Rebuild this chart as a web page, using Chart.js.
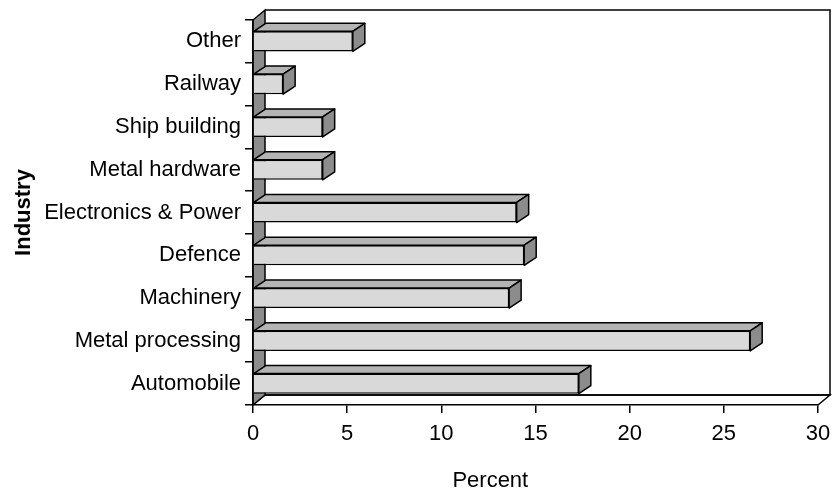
<!DOCTYPE html>
<html>
<head>
<meta charset="utf-8">
<script src="https://cdn.jsdelivr.net/npm/chart.js@4"></script>
<style>
  html, body { margin: 0; padding: 0; background: #fff; }
  #wrap { width: 832px; height: 491px; }
</style>
</head>
<body>
<div id="wrap"><canvas id="barChart" width="832" height="491"></canvas></div>
<script>
// bottom to top, as in the original sheet
const industries = [
  "Automobile",
  "Metal processing",
  "Machinery",
  "Defence",
  "Electronics & Power",
  "Metal hardware",
  "Ship building",
  "Railway",
  "Other",
];
const percents = [17.3, 26.4, 13.6, 14.4, 14.0, 3.7, 3.7, 1.6, 5.3];
const xTicks = [0, 5, 10, 15, 20, 25, 30];

const FONT = "'Liberation Sans', Arial, sans-serif";
const WALL_DX = 12, WALL_DY = -10;
const BAR_DX = 12, BAR_DY = -8;

// walls + floor behind everything
const wallsPlugin = {
  id: "walls",
  beforeDraw(chart) {
    const { ctx, chartArea: a } = chart;
    ctx.save();
    ctx.lineWidth = 1.5;
    ctx.strokeStyle = "#000";
    // back wall
    ctx.beginPath();
    ctx.moveTo(a.left + WALL_DX, a.top + WALL_DY);
    ctx.lineTo(a.right + WALL_DX, a.top + WALL_DY);
    ctx.lineTo(a.right + WALL_DX, a.bottom + WALL_DY);
    ctx.lineTo(a.left + WALL_DX, a.bottom + WALL_DY);
    ctx.stroke();
    // floor
    ctx.beginPath();
    ctx.moveTo(a.left, a.bottom);
    ctx.lineTo(a.left + WALL_DX, a.bottom + WALL_DY);
    ctx.lineTo(a.right + WALL_DX, a.bottom + WALL_DY);
    ctx.lineTo(a.right, a.bottom);
    ctx.stroke();
    // left wall
    ctx.beginPath();
    ctx.moveTo(a.left, a.top);
    ctx.lineTo(a.left + WALL_DX, a.top + WALL_DY);
    ctx.lineTo(a.left + WALL_DX, a.bottom + WALL_DY);
    ctx.lineTo(a.left, a.bottom);
    ctx.closePath();
    ctx.fillStyle = "#8c8c8c";
    ctx.fill();
    ctx.stroke();
    ctx.restore();
  },
  // x title sits a bit left of the axis centre in the original
  afterDraw(chart) {
    const { ctx } = chart;
    const xs = chart.scales.x;
    ctx.save();
    ctx.fillStyle = "#000";
    ctx.font = "22px " + FONT;
    ctx.textAlign = "center";
    ctx.textBaseline = "middle";
    ctx.fillText("Percent", xs.getPixelForValue(12.6), 481);
    ctx.restore();
  },
};

// top and end faces of each bar
const boxPlugin = {
  id: "box3d",
  afterDatasetsDraw(chart) {
    const { ctx } = chart;
    ctx.save();
    ctx.lineWidth = 1.5;
    ctx.strokeStyle = "#000";
    ctx.lineJoin = "round";
    chart.getDatasetMeta(0).data.forEach((bar) => {
      const p = bar.getProps(["x", "y", "base", "height"], true);
      const top = p.y - p.height / 2;
      const bottom = p.y + p.height / 2;
      ctx.beginPath();
      ctx.moveTo(p.base, top);
      ctx.lineTo(p.base + BAR_DX, top + BAR_DY);
      ctx.lineTo(p.x + BAR_DX, top + BAR_DY);
      ctx.lineTo(p.x, top);
      ctx.closePath();
      ctx.fillStyle = "#b4b4b4";
      ctx.fill();
      ctx.stroke();
      ctx.beginPath();
      ctx.moveTo(p.x, top);
      ctx.lineTo(p.x + BAR_DX, top + BAR_DY);
      ctx.lineTo(p.x + BAR_DX, bottom + BAR_DY);
      ctx.lineTo(p.x, bottom);
      ctx.closePath();
      ctx.fillStyle = "#8c8c8c";
      ctx.fill();
      ctx.stroke();
    });
    ctx.restore();
  },
};

const ctx = document.getElementById("barChart").getContext("2d");
new Chart(ctx, {
  type: "bar",
  data: {
    labels: industries,
    datasets: [
      {
        data: percents,
        backgroundColor: "#d9d9d9",
        borderColor: "#000",
        borderWidth: 1.5,
        barPercentage: 0.47,
        categoryPercentage: 1,
      },
    ],
  },
  options: {
    indexAxis: "y",
    responsive: false,
    animation: false,
    layout: { padding: { top: 20, right: 14, left: 0, bottom: 0 } },
    plugins: {
      legend: { display: false },
      tooltip: { enabled: false },
    },
    scales: {
      x: {
        min: 0,
        max: 30,
        afterFit(scale) {
          scale.height = 86;
          scale.paddingRight = 0;
        },
        afterBuildTicks(scale) { scale.ticks = xTicks.map((v) => ({ value: v })); },
        grid: {
          drawOnChartArea: false,
          color: "#000",
          lineWidth: 1.5,
          tickLength: 8,
        },
        border: { color: "#000", width: 1.5 },
        ticks: {
          color: "#000",
          padding: 8,
          maxRotation: 0,
          font: { family: FONT, size: 22 },
        },
      },
      y: {
        reverse: true,
        afterFit(scale) { scale.width = 253; },
        grid: {
          drawOnChartArea: false,
          color: "#000",
          lineWidth: 1.5,
          tickLength: 8,
        },
        border: { color: "#000", width: 1.5 },
        ticks: {
          color: "#000",
          padding: 4,
          font: { family: FONT, size: 22 },
        },
        title: {
          display: true,
          text: "Industry",
          color: "#000",
          padding: { top: 13 },
          font: { family: FONT, size: 22, weight: "bold", lineHeight: 1 },
        },
      },
    },
  },
  plugins: [wallsPlugin, boxPlugin],
});
</script>
</body>
</html>
